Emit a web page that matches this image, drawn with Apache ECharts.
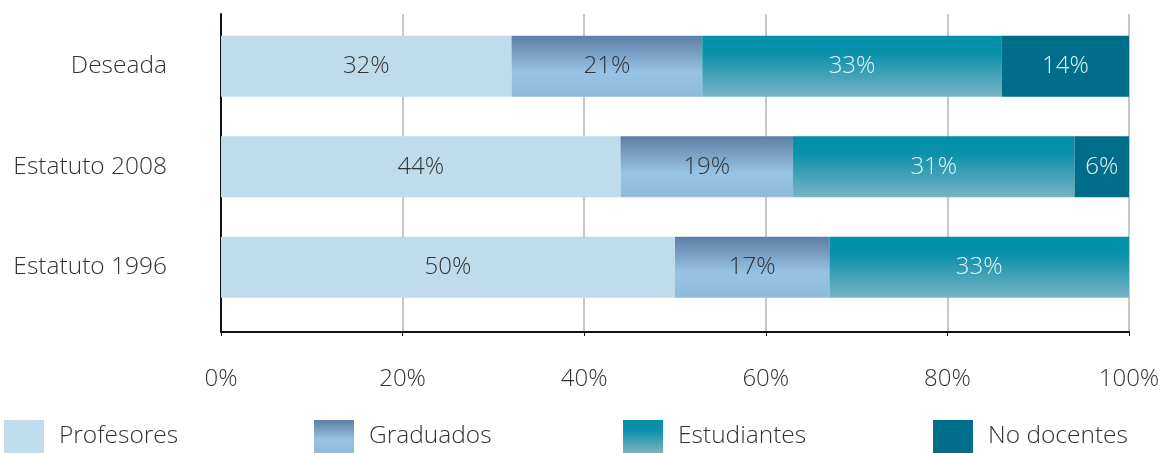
<!DOCTYPE html>
<html>
<head>
<meta charset="utf-8">
<script src="https://cdn.jsdelivr.net/npm/echarts@6/dist/echarts.min.js"></script>
<style>
  html, body { margin: 0; padding: 0; background: #fff; }
  #main { width: 1163px; height: 453px; }
</style>
</head>
<body>
<div id="main"></div>
<script>
var categories = ['Deseada', 'Estatuto 2008', 'Estatuto 1996'];
var seriesNames = ['Profesores', 'Graduados', 'Estudiantes', 'No docentes'];
var profesores = [32, 44, 50];
var graduados = [21, 19, 17];
var estudiantes = [33, 31, 33];
var noDocentes = [14, 6, 0];
var xTicks = [0, 20, 40, 60, 80, 100];

var FONT = "'Open Sans', 'Noto Sans', sans-serif";

function vgrad(stops) {
  return new echarts.graphic.LinearGradient(0, 0, 0, 1, stops.map(function (s) {
    return { offset: s[0], color: s[1] };
  }));
}

var colors = [
  '#bfdcec',
  vgrad([[0, '#5e7da6'], [0.6, '#97c4e4'], [1, '#8ebbdb']]),
  vgrad([[0, '#008fa9'], [0.3, '#0c91aa'], [1, '#78b3c6']]),
  '#006e8a'
];
var labelColors = ['#333', '#333', '#e6f3f7', '#e6f3f7'];
var values = [profesores, graduados, estudiantes, noDocentes];

var chart = echarts.init(document.getElementById('main'));

var series = seriesNames.map(function (name, i) {
  return {
    name: name,
    type: 'bar',
    stack: 'total',
    xAxisIndex: 1,
    yAxisIndex: 1,
    barWidth: 61,
    itemStyle: { color: colors[i] },
    label: {
      show: true,
      position: 'inside',
      color: labelColors[i],
      fontFamily: FONT,
      fontWeight: 300,
      fontSize: 24,
      formatter: function (p) { return p.value ? p.value + '%' : ''; }
    },
    emphasis: { disabled: true },
    data: values[i]
  };
});

// legends placed one by one to match the spacing in the picture
var legendLeft = [-1, 309, 618, 928];
var legends = seriesNames.map(function (name, i) {
  return {
    data: [name],
    icon: 'rect',
    left: legendLeft[i],
    top: 415,
    itemWidth: 40,
    itemHeight: 33,
    selectedMode: false,
    textStyle: {
      fontFamily: FONT,
      fontWeight: 300,
      fontSize: 24.5,
      color: '#333',
      padding: [0, 0, 0, 10]
    }
  };
});

var option = {
  animation: false,
  legend: legends,
  grid: [
    { left: 221, right: 34, top: 14, bottom: 121 },
    { left: 221, right: 34, top: 16, height: 301.5 }
  ],
  xAxis: [
    {
      gridIndex: 0,
      type: 'value',
      min: xTicks[0],
      max: xTicks[xTicks.length - 1],
      interval: 20,
      axisLine: { show: true, lineStyle: { color: '#111', width: 2 } },
      axisTick: { show: true, length: 4, lineStyle: { color: '#111' } },
      splitLine: { show: true, lineStyle: { color: '#b5b5b5', width: 1.5 } },
      axisLabel: {
        margin: 35,
        color: '#333',
        fontFamily: FONT,
        fontWeight: 300,
        fontSize: 24,
        formatter: '{value}%'
      }
    },
    {
      gridIndex: 1,
      type: 'value',
      min: 0,
      max: 100,
      show: false
    }
  ],
  yAxis: [
    {
      gridIndex: 0,
      type: 'value',
      min: 0,
      max: 1,
      axisLine: { show: true, lineStyle: { color: '#111', width: 2 } },
      axisTick: { show: false },
      axisLabel: { show: false },
      splitLine: { show: false }
    },
    {
      gridIndex: 1,
      type: 'category',
      inverse: true,
      data: categories,
      axisLine: { show: false },
      axisTick: { show: false },
      axisLabel: {
        margin: 54,
        color: '#333',
        fontFamily: FONT,
        fontWeight: 300,
        fontSize: 24.5
      }
    }
  ],
  series: series
};

chart.setOption(option);
</script>
</body>
</html>
